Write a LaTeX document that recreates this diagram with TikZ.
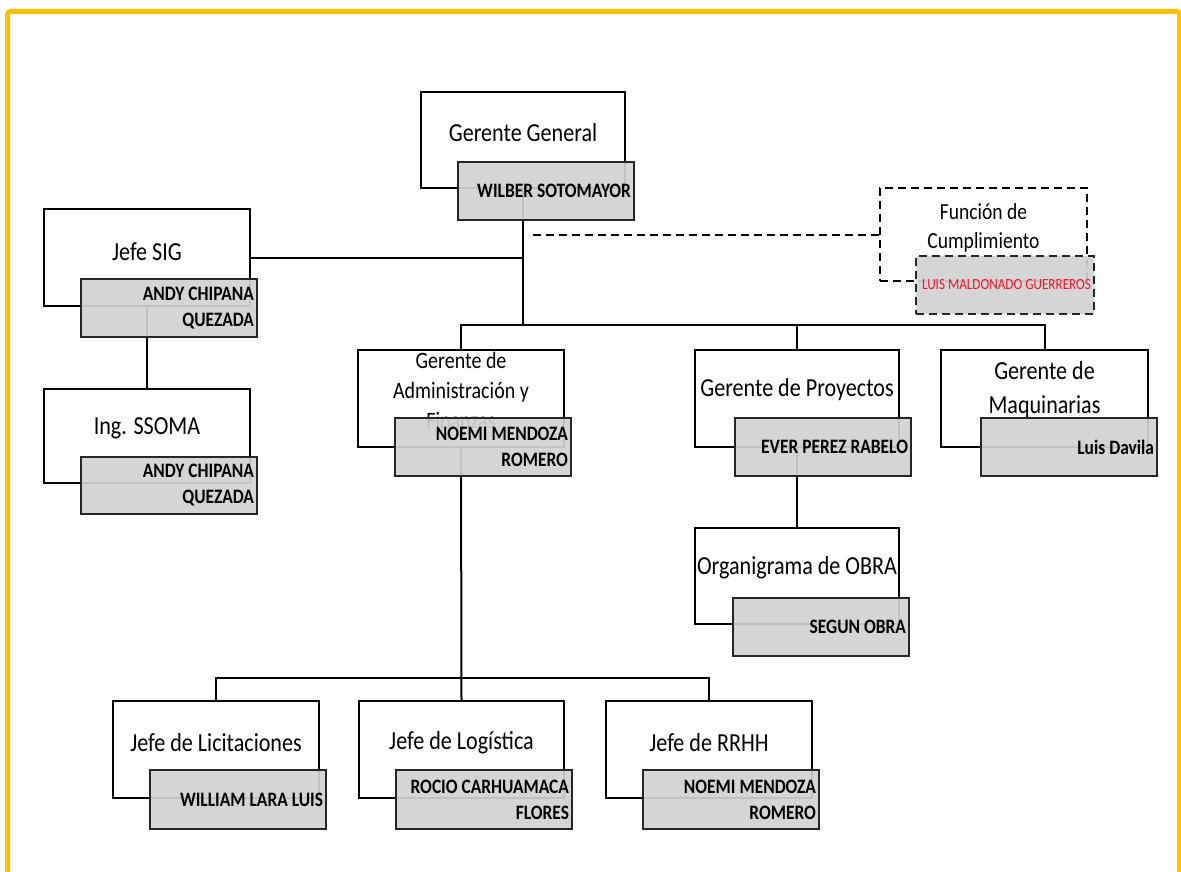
\documentclass[tikz,border=0pt]{standalone}
\usepackage{fontspec}
\setmainfont{Carlito}[FakeStretch=0.85]
\usetikzlibrary{positioning,calc}
\definecolor{marco}{RGB}{255,192,0}
\definecolor{gris}{RGB}{210,210,210}
\definecolor{rojo}{RGB}{245,20,40}

\begin{document}
\begin{tikzpicture}[x=1pt,y=-1pt,
    cargo/.style={draw=black,line width=2pt,fill=white,anchor=north west,
      minimum width=206pt,minimum height=97pt,inner sep=0pt},
    titulo/.style={font=\fontsize{26}{30}\selectfont,align=center},
    nombre/.style={draw=black!85,line width=2pt,fill=gris,fill opacity=0.92,
      text opacity=1,anchor=north west,minimum width=176pt,minimum height=58pt,
      text width=170pt,inner xsep=3pt,align=flush right,
      font=\fontsize{20.5}{26}\selectfont\bfseries},
    linea/.style={line width=2pt},
    punteado/.style={dash pattern=on 8pt off 5pt}]
  \clip (0,0) rectangle (1181,872);
  \fill[white] (0,0) rectangle (1181,872);
  \draw[marco,line width=5pt,rounded corners=3pt]
    (7.5,890) -- (7.5,11.5) -- (1179.5,11.5) -- (1179.5,890);

  \node[cargo,minimum width=204pt,minimum height=96pt] (gg) at (420,91) {};
  \node[cargo] (sig) at (43,208) {};
  \node[cargo,minimum height=94pt] (ssoma) at (43,388) {};
  \node[cargo,punteado,minimum width=207pt,minimum height=93pt] (fc) at (879,187) {};
  \node[cargo] (adm) at (357,349) {};
  \node[cargo,minimum width=204pt] (proy) at (694,349) {};
  \node[cargo,minimum width=207pt] (maq) at (940,349) {};
  \node[cargo,minimum width=204pt,minimum height=96pt] (obra) at (694,527) {};
  \node[cargo] (lic) at (112,700) {};
  \node[cargo,minimum width=205pt] (log) at (358,700) {};
  \node[cargo] (rrhh) at (605,700) {};

  \node[titulo] (ggt) at ([yshift=-42pt]gg.north) {Gerente General};
  \node[titulo] (sigt) at ([yshift=-44pt]sig.north) {Jefe SIG};
  \node[titulo] (ssomat) at ([yshift=-40pt]ssoma.north) {Ing. SSOMA};
  \node[titulo,font=\fontsize{23}{29}\selectfont] (fct) at ([yshift=-41pt]fc.north) {Función de\\Cumplimiento};
  \node[titulo,font=\fontsize{23.5}{30}\selectfont] (admt) at ([yshift=-41pt]adm.north) {Gerente de\\Administración y\\Finanzas};
  \node[titulo] (proyt) at ([yshift=-41pt]proy.north) {Gerente de Proyectos};
  \node[titulo,font=\fontsize{26}{34}\selectfont] (maqt) at ([yshift=-41pt]maq.north) {Gerente de\\Maquinarias};
  \node[titulo] (obrat) at ([yshift=-41pt]obra.north) {Organigrama de OBRA};
  \node[titulo] (lict) at ([yshift=-43pt]lic.north) {Jefe de Licitaciones};
  \node[titulo] (logt) at ([yshift=-43pt]log.north) {Jefe de Logística};
  \node[titulo] (rrhht) at ([yshift=-43pt]rrhh.north) {Jefe de RRHH};

  \path (gg.south) ++(0,136) coordinate (bus);
  \path (adm.south) ++(0,230) coordinate (bus2);
  \draw[linea] (gg.south) -- (bus);
  \draw[linea] (sig.east) -- (sig.east -| gg.south);
  \draw[linea,punteado] (fc.west) -- ([xshift=5pt]fc.west -| gg.south);
  \draw[linea] (adm.north) |- (maq.north |- bus) -- (maq.north);
  \draw[linea] (proy.north) -- (proy.north |- bus);
  \draw[linea] (sig.south) -- (ssoma.north);
  \draw[linea] (proy.south) -- (obra.north);
  \draw[linea] (adm.south) -- (log.north);
  \draw[linea] (lic.north) |- (bus2) -| (rrhh.north);

  \node[nombre,minimum width=174pt] (ggn) at (457,161) {WILBER SOTOMAYOR};
  \node[nombre] (sign) at (80,278) {ANDY CHIPANA\\QUEZADA};
  \node[nombre,minimum height=57pt] (ssoman) at (80,456) {ANDY CHIPANA\\QUEZADA};
  \node[nombre,punteado,minimum width=178pt,text width=172pt,
    font=\fontsize{15.5}{18}\selectfont\color{rojo}] (fcn) at (915,255) {LUIS MALDONADO GUERREROS};
  \node[nombre] (admn) at (394,417) {NOEMI MENDOZA\\ROMERO};
  \node[nombre,minimum width=175pt] (proyn) at (734,417) {EVER PEREZ RABELO};
  \node[nombre] (maqn) at (980,417) {Luis Davila};
  \node[nombre] (obran) at (732,597) {SEGUN OBRA};
  \node[nombre,minimum height=59pt] (licn) at (149,769) {WILLIAM LARA LUIS};
  \node[nombre,minimum height=59pt] (logn) at (395,769) {ROCIO CARHUAMACA\\FLORES};
  \node[nombre,minimum width=174pt,minimum height=59pt] (rrhhn) at (642,769) {NOEMI MENDOZA\\ROMERO};
\end{tikzpicture}
\end{document}
